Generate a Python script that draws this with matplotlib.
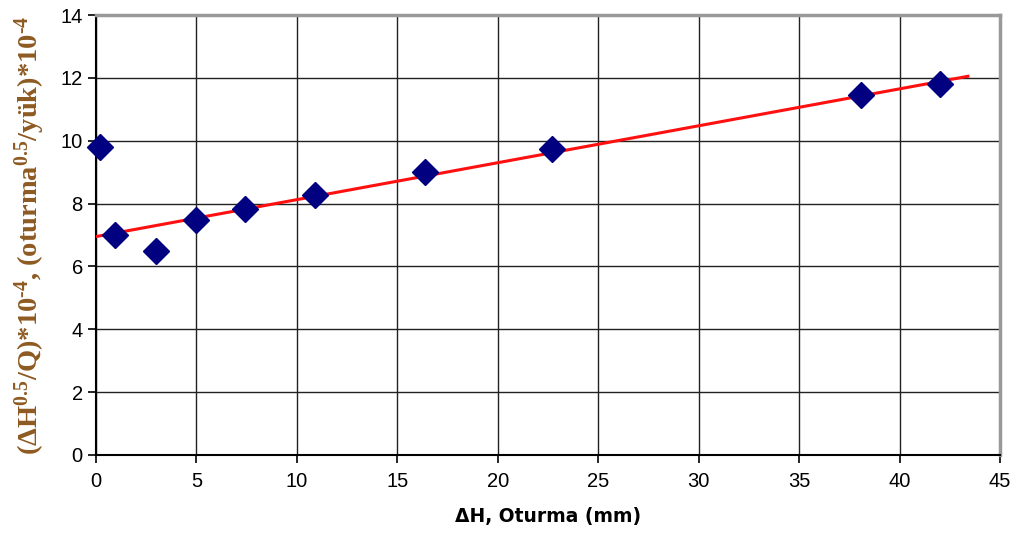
import matplotlib
matplotlib.use("Agg")
import matplotlib.pyplot as plt

plt.rcParams["mathtext.fontset"] = "custom"
plt.rcParams["mathtext.rm"] = "Liberation Serif:bold"
plt.rcParams["mathtext.it"] = "Liberation Serif:bold"
plt.rcParams["mathtext.bf"] = "Liberation Serif:bold"
plt.rcParams["mathtext.default"] = "rm"

# Data
settlement = [0.2, 0.95, 3.0, 5.0, 7.4, 10.9, 16.4, 22.7, 38.1, 42.0]
ratio = [9.8, 7.0, 6.5, 7.48, 7.83, 8.27, 9.0, 9.74, 11.45, 11.8]
trend_x = [0.0, 43.4]
trend_y = [6.95, 12.05]
x_ticks = list(range(0, 46, 5))
y_ticks = list(range(0, 15, 2))

fig = plt.figure(figsize=(10.19, 5.38), dpi=100)
ax = fig.add_axes([0.0942, 0.1543, 0.8872, 0.8178])

ax.set_xlim(0, 45)
ax.set_ylim(0, 14)
ax.set_xticks(x_ticks)
ax.set_yticks(y_ticks)
ax.grid(True, color="#222222", linewidth=1.0)
ax.set_axisbelow(True)

ax.plot(trend_x, trend_y, color="#ff1010", linewidth=2.2, zorder=3)
ax.plot(settlement, ratio, linestyle="none", marker="D", markersize=13,
        color="#000080", zorder=4, clip_on=False)

for s in ["left", "bottom"]:
    ax.spines[s].set_color("black")
    ax.spines[s].set_linewidth(1.5)
for s in ["top", "right"]:
    ax.spines[s].set_color("#999999")
    ax.spines[s].set_linewidth(2.5)

ax.tick_params(axis="both", direction="out", length=6, width=1.2,
               labelsize=14.5, colors="black")
ax.tick_params(axis="x", pad=6)
for lab in ax.get_xticklabels() + ax.get_yticklabels():
    lab.set_fontfamily("Liberation Sans")

ax.set_xlabel("ΔH, Oturma (mm)", fontsize=13.5, fontweight="bold",
              fontfamily="DejaVu Sans", labelpad=12)
ax.set_ylabel(r"(ΔH$^{0.5}$/Q)*10$^{\text{-}4}$, (oturma$^{0.5}$/yük)*10$^{\text{-}4}$",
              fontsize=20.5, fontweight="bold", fontfamily="Liberation Serif",
              color="#8E5A22", labelpad=10)

fig.savefig("out.png", dpi=100)
